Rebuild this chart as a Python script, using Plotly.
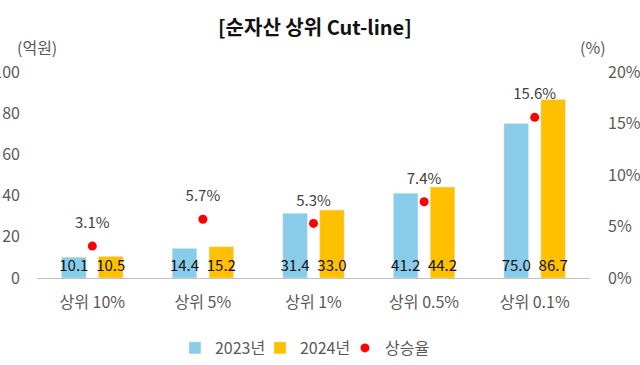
import plotly.graph_objects as go

categories = ["상위 10%", "상위 5%", "상위 1%", "상위 0.5%", "상위 0.1%"]
values_2023 = [10.1, 14.4, 31.4, 41.2, 75.0]
values_2024 = [10.5, 15.2, 33.0, 44.2, 86.7]
growth_rate = [0.031, 0.057, 0.053, 0.074, 0.156]
growth_labels = ["3.1%", "5.7%", "5.3%", "7.4%", "15.6%"]

FONT = "Noto Sans CJK KR, Noto Sans, sans-serif"
GRAY = "#595959"

fig = go.Figure()
fig.add_trace(go.Bar(
    name="2023년", x=categories, y=values_2023,
    marker_color="#89CCEA",
    text=[f"{v:.1f}" for v in values_2023],
    textposition="inside", insidetextanchor="start", textangle=0,
    constraintext="none", cliponaxis=False,
    textfont=dict(color="#111111", size=15, family=FONT),
))
fig.add_trace(go.Bar(
    name="2024년", x=categories, y=values_2024,
    marker_color="#FFC000",
    text=[f"{v:.1f}" for v in values_2024],
    textposition="inside", insidetextanchor="start", textangle=0,
    constraintext="none", cliponaxis=False,
    textfont=dict(color="#111111", size=15, family=FONT),
))
fig.add_trace(go.Scatter(
    name="상승율", x=categories, y=growth_rate, yaxis="y2",
    mode="markers", marker=dict(color="#FF0000", size=9),
    cliponaxis=False,
))
# labels for the growth-rate dots (invisible larger marker pushes text up)
fig.add_trace(go.Scatter(
    name="상승율 라벨", x=categories, y=growth_rate, yaxis="y2",
    mode="markers+text", marker=dict(color="rgba(0,0,0,0)", size=21),
    text=growth_labels, textposition="top center",
    textfont=dict(color="#404040", size=15, family=FONT),
    cliponaxis=False, showlegend=False, hoverinfo="skip",
))

fig.update_layout(
    width=640, height=365,
    margin=dict(l=37, r=50, t=72, b=87),
    paper_bgcolor="white", plot_bgcolor="white",
    font=dict(family=FONT, color=GRAY, size=15),
    barmode="group", bargap=0.333, bargroupgap=0.333,
    title=dict(text="<b>[순자산 상위 Cut-line]</b>", x=0.492, y=1 - 28 / 365,
               xanchor="center", yanchor="middle",
               font=dict(size=20, color="#111111", family=FONT)),
    xaxis=dict(showline=True, linecolor="#BFBFBF", linewidth=1, ticks="",
               ticklabelstandoff=10, automargin=False,
               tickfont=dict(size=16, color=GRAY), showgrid=False),
    yaxis=dict(range=[0, 100], dtick=20, showgrid=False, zeroline=False,
               ticklabelstandoff=16, automargin=False,
               tickfont=dict(size=16, color=GRAY)),
    yaxis2=dict(range=[0, 0.2], dtick=0.05, tickformat=".0%", overlaying="y",
                side="right", showgrid=False, zeroline=False,
                ticklabelstandoff=17, automargin=False,
                tickfont=dict(size=16, color=GRAY)),
    legend=dict(orientation="h", x=0.48, xanchor="center",
                yref="container", y=1 - 348 / 365, yanchor="middle",
                font=dict(size=16, color=GRAY), itemwidth=30, entrywidth=40),
    annotations=[
        dict(text="(억원)", xref="paper", yref="paper", x=0.0, y=1.121,
             showarrow=False, xanchor="center", yanchor="middle",
             font=dict(size=16, color=GRAY)),
        dict(text="(%)", xref="paper", yref="paper", x=1.005, y=1.121,
             showarrow=False, xanchor="center", yanchor="middle",
             font=dict(size=16, color=GRAY)),
    ],
)

fig.write_html("out.html", config={"displayModeBar": False},
               post_script="document.body.style.margin='0';")
